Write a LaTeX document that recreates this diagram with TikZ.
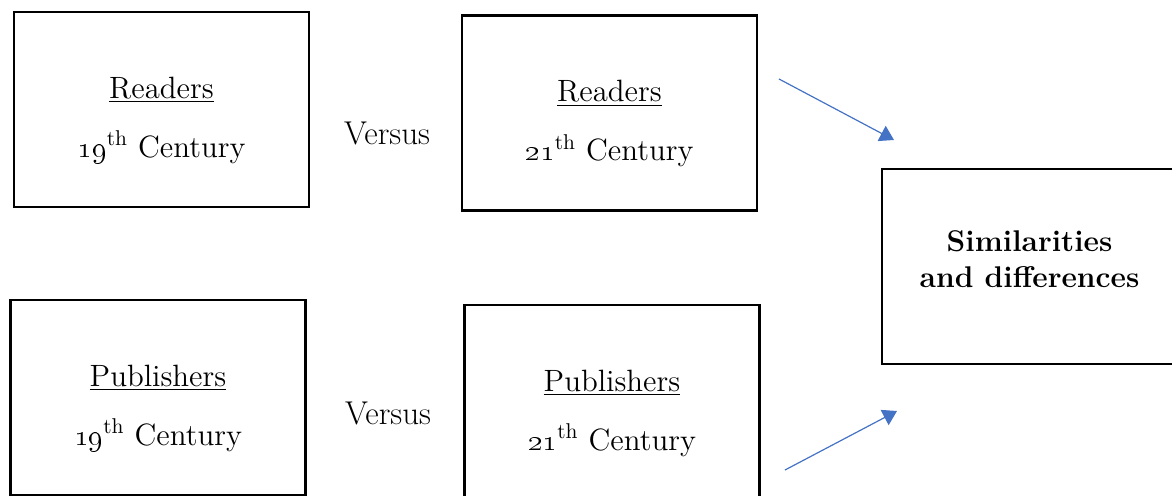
\documentclass[tikz,border=0pt]{standalone}
\usetikzlibrary{arrows.meta,positioning}

\definecolor{arrowblue}{HTML}{4472C4}

\tikzset{
  box/.style={draw, line width=1.25pt, minimum width=147.5pt, minimum height=97.5pt, inner sep=0pt},
  boxtext/.style={align=center, inner sep=0pt, scale=1.07, font=\fontsize{14.4}{27.6}\selectfont},
  simtext/.style={align=center, inner sep=0pt, scale=1.04, font=\fontsize{14.4}{17.3}\selectfont\bfseries},
  vs/.style={inner sep=0pt, font=\fontsize{16.5}{18}\selectfont},
  flow/.style={draw=arrowblue, line width=0.6pt, -{Triangle[length=7pt,width=8.5pt]}, arrowblue}
}

\begin{document}
\begin{tikzpicture}[x=0.5pt, y=-0.5pt]
  \useasboundingbox (0,0) rectangle (1172,496);
  \clip (0,0) rectangle (1172,496);

  % readers
  \node[box] (r19) at (161.5,109.5) {};
  \node[boxtext] (r19t) at ([yshift=-5.25pt]r19.center) {\underline{Readers}\\\oldstylenums{19}\textsuperscript{th} Century};
  \node[box] (r21) at (609.5,113) {};
  \node[boxtext] (r21t) at ([yshift=-5.25pt]r21.center) {\underline{Readers}\\\oldstylenums{21}\textsuperscript{th} Century};
  \node[vs] (vs1) at (387,133) {Versus};

  % publishers
  \node[box] (p19) at (158,397.5) {};
  \node[boxtext] (p19t) at ([yshift=-5.25pt]p19.center) {\underline{Publishers}\\\oldstylenums{19}\textsuperscript{th} Century};
  \node[box] (p21) at (612,402.5) {};
  \node[boxtext] (p21t) at ([yshift=-5.25pt]p21.center) {\underline{Publishers}\\\oldstylenums{21}\textsuperscript{th} Century};
  \node[vs] (vs2) at (388,413) {Versus};

  % result
  \node[box] (sim) at (1029.5,266.5) {};
  \node[simtext] (simt) at ([yshift=3.75pt]sim.center) {Similarities\\and differences};

  \coordinate (a1s) at (779,79);
  \coordinate (a1e) at (894,140);
  \coordinate (a2s) at (785,470);
  \coordinate (a2e) at (897,411);
  \draw[flow] (a1s) -- (a1e);
  \draw[flow] (a2s) -- (a2e);
\end{tikzpicture}
\end{document}
